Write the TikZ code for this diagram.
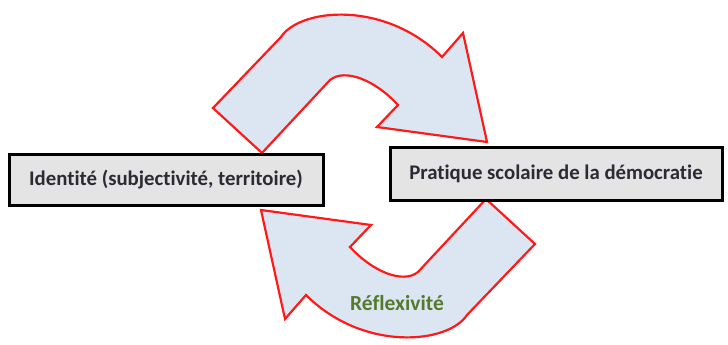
\documentclass[tikz,border=0pt]{standalone}
\usepackage{fontspec}
\setmainfont{Carlito}[Ligatures=NoCommon]
\usepackage{xcolor}
\definecolor{arrowfill}{HTML}{DCE6F2}
\definecolor{arrowline}{HTML}{FF1A1A}
\definecolor{boxfill}{HTML}{E4E4E4}
\definecolor{boxtext}{HTML}{2B2B36}
\definecolor{labelgreen}{HTML}{557A2E}
\tikzset{
  bend arrow/.style = {
    draw=arrowline,
    fill=arrowfill,
    line width=2.2pt,
    line join=miter
  },
  block/.style = {
    draw=black,
    fill=boxfill,
    line width=3pt,
    inner sep=0pt,
    text=boxtext,
    font={\fontsize{20.8}{24}\selectfont\bfseries}
  },
  label class/.style={
    text=labelgreen,
    font={\fontsize{21.5}{24}\selectfont\bfseries}
  },
}

\begin{document}
\begin{tikzpicture}[x=1pt,y=-1pt]

  \useasboundingbox (0,0) rectangle (728,345);

  \foreach \turn in {0,180} {
    \draw[bend arrow, rotate around={\turn:(374,176)}]
      (213,108) -- (281,37) .. controls (300,8) and (385,0) .. (442,57)
      -- (463,33) -- (487,142) -- (377,127) -- (398,105)
      .. controls (375,80) and (345,68) .. (330,80) -- (262,153) -- cycle;
  }

  \node[block, minimum width=314pt, minimum height=51pt] (identite) at (166,179.5)
    {Identité (subjectivité, territoire)};
  \node[block, minimum width=332pt, minimum height=53pt] (pratique) at (556,173.5)
    {Pratique scolaire de la démocratie};

  \node[label class] (reflexivite) at (397,303) {Réflexivité};

\end{tikzpicture}
\end{document}
